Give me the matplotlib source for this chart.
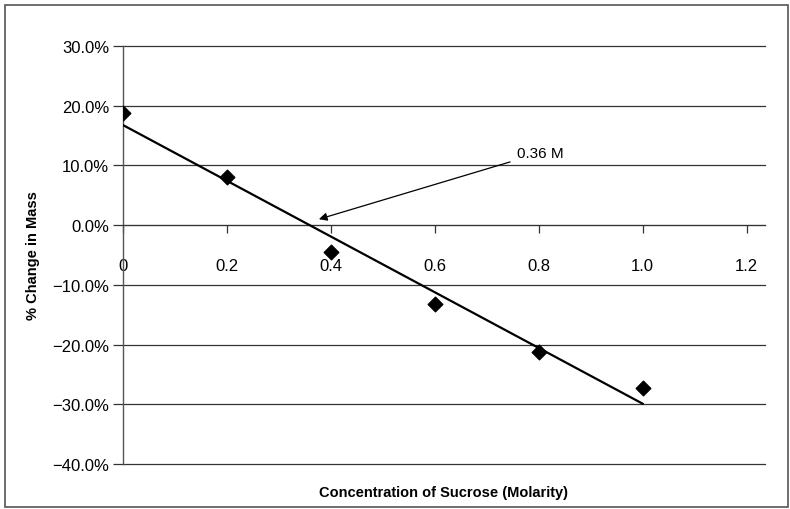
import numpy as np
import matplotlib
matplotlib.use("Agg")
import matplotlib.pyplot as plt
from matplotlib.patches import Rectangle
from matplotlib.ticker import FuncFormatter

# sucrose osmosis data
molarity = [0.0, 0.2, 0.4, 0.6, 0.8, 1.0]
pct_change = [0.188, 0.080, -0.045, -0.132, -0.213, -0.272]
x_ticks = [0, 0.2, 0.4, 0.6, 0.8, 1.0, 1.2]
x_tick_labels = ["0", "0.2", "0.4", "0.6", "0.8", "1.0", "1.2"]
y_ticks = [-0.4, -0.3, -0.2, -0.1, 0.0, 0.1, 0.2, 0.3]
annot_label = "0.36 M"

plt.rcParams["font.family"] = ["Liberation Sans", "DejaVu Sans"]

fig = plt.figure(figsize=(7.9, 5.1), dpi=100)
ax = fig.add_axes([0.1557, 0.0882, 0.8123, 0.8196])

# outer frame
fig.patches.append(Rectangle((0.006, 0.003), 0.991, 0.985, transform=fig.transFigure,
                             fill=False, edgecolor="#555555", linewidth=1.2))

ax.scatter(molarity, pct_change, marker="D", s=55, color="black", zorder=4)

# linear trend line
m, b = np.polyfit(molarity, pct_change, 1)
xs = np.array([molarity[0], molarity[-1]])
ax.plot(xs, m * xs + b, color="black", linewidth=1.6, zorder=3)

ax.annotate(annot_label, xy=(0.377, 0.010), xytext=(0.758, 0.121),
            fontsize=11, ha="left", va="center",
            arrowprops=dict(arrowstyle="-|>", color="black", lw=0.9,
                            mutation_scale=12, shrinkA=3, shrinkB=0))

ax.set_xlim(0, 1.235)
ax.set_ylim(-0.4, 0.3)
ax.set_xticks(x_ticks)
ax.set_xticklabels(x_tick_labels)
ax.set_yticks(y_ticks)
ax.yaxis.set_major_formatter(FuncFormatter(lambda v, p: f"{v * 100:.1f}%".replace("-", "\u2212")))

ax.grid(axis="y", color="#333333", linewidth=0.9)
for gl in ax.get_ygridlines():
    gl.set_clip_on(False)
ax.set_axisbelow(True)

for s in ["top", "right"]:
    ax.spines[s].set_visible(False)
ax.spines["bottom"].set_position(("data", 0))
ax.spines["bottom"].set_color("#333333")
ax.spines["left"].set_color("#555555")
ax.spines["left"].set_linewidth(1.0)

ax.tick_params(axis="x", direction="out", length=6, width=0.9, pad=18,
               labelsize=12, color="#333333")
ax.tick_params(axis="y", direction="out", length=7, width=0.9, pad=3,
               labelsize=12, color="#333333")

ax.set_xlabel("Concentration of Sucrose (Molarity)", fontsize=10.5, fontweight="bold", va="center")
ax.xaxis.set_label_coords(0.5, -0.066)
ax.set_ylabel("% Change in Mass", fontsize=10.5, fontweight="bold", va="center")
ax.yaxis.set_label_coords(-0.14, 0.5)

fig.savefig("out.png", dpi=100)
